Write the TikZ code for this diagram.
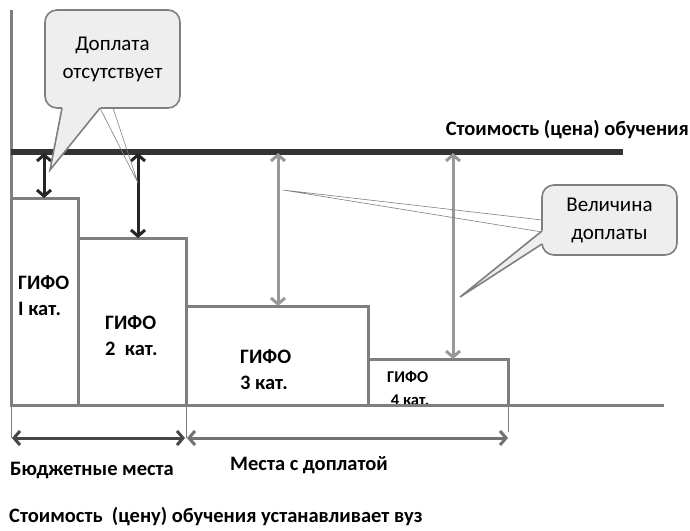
\documentclass[tikz,border=0pt]{standalone}
\usepackage{fontspec}
\setmainfont{Carlito}
\usetikzlibrary{arrows.meta,calc,positioning}
\usepackage{xcolor}
\definecolor{axisgray}{HTML}{7F7F7F}
\definecolor{pricedark}{HTML}{333333}
\definecolor{blackarrow}{HTML}{262626}
\definecolor{lightarrow}{HTML}{989898}
\definecolor{calloutfill}{HTML}{EEEEEE}

\tikzset{
  axisline/.style={draw=axisgray,line width=3pt},
  pricebar/.style={draw=pricedark,line width=5.5pt},
  darr/.style={blackarrow,line width=3pt,
    {Straight Barb[length=6pt,width=14pt]}-{Straight Barb[length=6pt,width=14pt]}},
  garr/.style={lightarrow,line width=3pt,
    {Straight Barb[length=6pt,width=14pt]}-{Straight Barb[length=6pt,width=14pt]}},
  dimtick/.style={draw=axisgray,line width=0.8pt},
  thinptr/.style={draw=axisgray,line width=0.6pt},
  lbl/.style={font=\bfseries\fontsize{20.5}{26}\selectfont,inner sep=0pt},
  barlbl/.style={lbl,align=left,anchor=west},
  calloutbox/.style={draw=axisgray,fill=calloutfill,line width=1.6pt,
    rounded corners=12pt,font=\fontsize{21}{28}\selectfont,align=center},
  calloutside/.style={draw=axisgray,line width=1.6pt}
}

\begin{document}
\begin{tikzpicture}[x=1pt,y=-1pt]
  \useasboundingbox (0,0) rectangle (690,530);
  % Bars ГИФО
  \coordinate (O) at (11,405);
  \draw[axisline] (11,198) rectangle (78,405);
  \draw[axisline] (78,238) rectangle (186,405);
  \draw[axisline] (186,306) rectangle (368,405);
  \draw[axisline] (368,359) rectangle (508,405);
  \node[barlbl] (g1) at (18,296) {ГИФО\\I кат.};
  \node[barlbl] (g2) at (105,336) {ГИФО\\2\ \ кат.};
  \node[barlbl] (g3) at (240,370) {ГИФО\\3 кат.};
  \node[barlbl,font=\bfseries\fontsize{16.5}{23}\selectfont] (g4) at (387,388) {ГИФО\\\ 4 кат.};
  % Axes
  \coordinate (ytop) at (11,10);
  \coordinate (xend) at (664,405);
  \draw[axisline] (ytop)--(O)--(xend);
  % Price line
  \coordinate (P0) at (11,152);
  \coordinate (P1) at (623,152);
  \draw[pricebar] (P0)--(P1);
  \node[lbl,anchor=east] (price) at (689,130) {Стоимость (цена) обучения};
  % Surcharge arrows
  \coordinate (a1t) at (44,153);  \coordinate (a1b) at (44,198);
  \coordinate (a2t) at (138,153); \coordinate (a2b) at (138,238);
  \coordinate (a3t) at (278,153); \coordinate (a3b) at (278,306);
  \coordinate (a4t) at (453,153); \coordinate (a4b) at (453,359);
  \draw[darr] (a1t)--(a1b);
  \draw[darr] (a2t)--(a2b);
  \draw[garr] (a3t)--(a3b);
  \draw[garr] (a4t)--(a4b);
  % Places
  \coordinate (t1) at (11,438);
  \coordinate (t2) at (186,438);
  \coordinate (t3) at (508,432);
  \draw[dimtick] (O)--(t1);
  \draw[dimtick] (186,405)--(t2);
  \draw[dimtick] (508,405)--(t3);
  \draw[line width=3pt,draw=pricedark!90,
    {Straight Barb[length=6pt,width=14pt]}-{Straight Barb[length=6pt,width=14pt]}]
    (12,438)--(185,438);
  \draw[line width=3pt,draw=axisgray!90!black,
    {Straight Barb[length=6pt,width=14pt]}-{Straight Barb[length=6pt,width=14pt]}]
    (187,438)--(508,438);
  \node[lbl] (budget) at (92,470) {Бюджетные места};
  \node[lbl] (paid) at (309,465) {Места с доплатой};
  \node[lbl,anchor=west] (note) at (9,517) {Стоимость\ \ (цену) обучения устанавливает вуз};
  % Callout: Доплата отсутствует
  \coordinate (c1a) at (100,108);
  \coordinate (c1b) at (113,108);
  \coordinate (c1tip) at (138,183);
  \draw[thinptr] (c1a)--(c1tip)--(c1b);
  \node[calloutbox,minimum width=135pt,minimum height=98pt] (nopay) at (112.5,59) {Доплата\\отсутствует};
  \coordinate (p1a) at (62,108);
  \coordinate (p1b) at (100,108);
  \coordinate (p1tip) at (50,170);
  \fill[calloutfill] (p1tip)--($(p1tip)!1.07!(p1a)$)--($(p1tip)!1.07!(p1b)$)--cycle;
  \draw[calloutside] (p1a)--(p1tip)--(p1b);
  % Callout: Величина доплаты
  \coordinate (c2a) at (542,220);
  \coordinate (c2b) at (542,232);
  \coordinate (c2tip) at (283,190);
  \draw[thinptr] (c2a)--(c2tip)--(c2b);
  \node[calloutbox,minimum width=135pt,minimum height=70pt] (surcharge) at (609.5,220) {Величина\\доплаты};
  \coordinate (p2a) at (542,231);
  \coordinate (p2b) at (542,244);
  \coordinate (p2tip) at (460,297);
  \fill[calloutfill] (p2tip)--($(p2tip)!1.07!(p2a)$)--($(p2tip)!1.07!(p2b)$)--cycle;
  \draw[calloutside] (p2a)--(p2tip)--(p2b);
\end{tikzpicture}
\end{document}
